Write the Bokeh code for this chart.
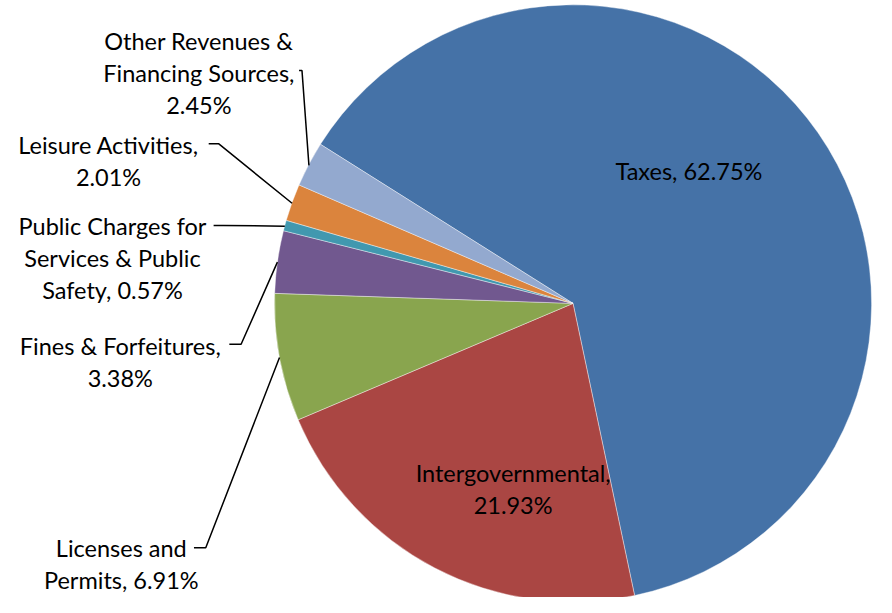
import math
from bokeh.plotting import figure
from bokeh.models import ColumnDataSource, Range1d
from bokeh.embed import file_html
from bokeh.resources import INLINE
from bokeh.core.properties import value

# ---- data ----
categories = ["Taxes", "Intergovernmental", "Licenses and Permits",
              "Fines & Forfeitures", "Public Charges for Services & Public Safety",
              "Leisure Activities", "Other Revenues & Financing Sources"]
percents = [62.75, 21.93, 6.91, 3.38, 0.57, 2.01, 2.45]
colors = ["#4572A7", "#AA4643", "#89A54E", "#71588F", "#4198AF", "#DB843D", "#93A9CF"]
label_lines = [
    ["Taxes, 62.75%"],
    ["Intergovernmental,", "21.93%"],
    ["Licenses and", "Permits, 6.91%"],
    ["Fines & Forfeitures,", "3.38%"],
    ["Public Charges for", "Services & Public", "Safety, 0.57%"],
    ["Leisure Activities,", "2.01%"],
    ["Other Revenues &", "Financing Sources,", "2.45%"],
]

# ---- layout (reference pixel space, y measured downward) ----
W, H = 876, 597
REF_W, REF_H = 892, 613
CX, CY, R = 583, 311, 304
FIRST_ANGLE = 302.2          # clockwise from 12 o'clock
FONT = "Lato"
FS = 23.5
LINE_H = 33
label_centers = [(701, 167), (522, 493), (123, 570), (122, 363),
                 (114, 256), (110, 156), (202, 66)]
leader_stubs = [None, None, [(197, 562), (209, 562)], [(233, 353), (245, 353)],
                [(217, 231), (227, 231)], [(212, 147), (222, 147)],
                [(304, 72), (307, 72)]]

p = figure(width=W, height=H, output_backend="svg", toolbar_location=None,
           x_range=Range1d(0, REF_W), y_range=Range1d(-REF_H, 0),
           min_border=0, outline_line_color=None)
p.axis.visible = False
p.grid.visible = False
p.background_fill_color = "white"
p.border_fill_color = "white"

# wedges
start_a, end_a, mids = [], [], []
cum = 0.0
for v in percents:
    t0 = FIRST_ANGLE + cum / 100 * 360
    t1 = FIRST_ANGLE + (cum + v) / 100 * 360
    cum += v
    start_a.append(math.radians(90 - t1))
    end_a.append(math.radians(90 - t0))
    mids.append((t0 + t1) / 2)

src = ColumnDataSource(dict(start=start_a, end=end_a, color=colors, cat=categories))
p.wedge(x=CX, y=-CY, radius=R, start_angle="start", end_angle="end",
        fill_color="color", line_color="white", line_alpha=0.5, line_width=0.8,
        source=src)

# leader lines
for stub, m in zip(leader_stubs, mids):
    if stub is None:
        continue
    ex = CX + R * math.sin(math.radians(m))
    ey = CY - R * math.cos(math.radians(m))
    xs = [pt[0] for pt in stub] + [ex]
    ys = [-pt[1] for pt in stub] + [-ey]
    p.line(xs, ys, line_color="black", line_width=1.5)

# labels
tx, ty, tt = [], [], []
for lines, (lx, ly) in zip(label_lines, label_centers):
    n = len(lines)
    for i, s in enumerate(lines):
        yc = ly + (i - (n - 1) / 2) * LINE_H
        tx.append(lx)
        ty.append(-(yc + 8.5))
        tt.append(s)
p.text(x=tx, y=ty, text=tt, text_align="center", text_baseline="alphabetic",
       text_font=value(FONT), text_font_size=f"{FS}px", text_color="black")

open("out.html", "w").write(file_html(p, INLINE))
